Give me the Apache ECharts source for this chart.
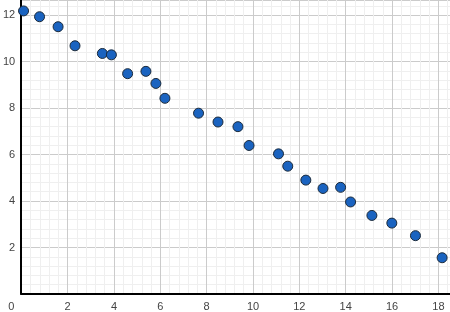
<!DOCTYPE html>
<html><head><meta charset="utf-8">
<script src="https://cdn.jsdelivr.net/npm/echarts@6/dist/echarts.min.js"></script>
<style>html,body{margin:0;padding:0;background:#fff}#c{width:450px;height:312px}</style>
</head><body><div id="c"></div>
<script>
var xValues = [0.1, 0.79, 1.59, 2.32, 3.5, 3.89, 4.59, 5.38, 5.81, 6.2, 7.65, 8.49, 9.35, 9.83, 11.1, 11.5, 12.28, 13.02, 13.78, 14.21, 15.13, 15.99, 17.01, 18.16];
var yValues = [12.18, 11.93, 11.5, 10.68, 10.35, 10.29, 9.48, 9.58, 9.06, 8.42, 7.78, 7.4, 7.2, 6.39, 6.03, 5.5, 4.9, 4.54, 4.59, 3.96, 3.38, 3.05, 2.51, 1.56];
var data = xValues.map(function(x, i){ return [x, yValues[i]]; });
var chart = echarts.init(document.getElementById('c'));
var labelStyle = {color:'#444', fontSize:11, fontFamily:'Liberation Sans, Arial, sans-serif'};
chart.setOption({
  animation:false,
  grid:{left:20, top:0, right:0, bottom:18, containLabel:false},
  xAxis:{type:'value', min:0, max:18.5, interval:2,
    axisLine:{show:true, onZero:false, lineStyle:{color:'#000', width:2}},
    axisTick:{show:false},
    axisLabel:Object.assign({margin:7, showMaxLabel:false,
      formatter:function(v){ return v===0 ? '{o|0}' : String(v); },
      rich:{o:{padding:[0,20,0,0], color:'#444', fontSize:11, fontFamily:'Liberation Sans, Arial, sans-serif'}}}, labelStyle),
    splitLine:{show:true, lineStyle:{color:'#cbcbcb', width:1}},
    minorTick:{show:false, splitNumber:5},
    minorSplitLine:{show:true, lineStyle:{color:'#efefef', width:1}}
  },
  yAxis:{type:'value', min:0, max:12.65, interval:2,
    axisLine:{show:true, onZero:false, lineStyle:{color:'#000', width:2}},
    axisTick:{show:false},
    axisLabel:Object.assign({margin:6, showMinLabel:false, showMaxLabel:false}, labelStyle),
    splitLine:{show:true, lineStyle:{color:'#cbcbcb', width:1}},
    minorTick:{show:false, splitNumber:5},
    minorSplitLine:{show:true, lineStyle:{color:'#efefef', width:1}}
  },
  series:[{type:'scatter', data:data, symbolSize:10,
    itemStyle:{color:'#1a63c0', borderColor:'#1b2a3a', borderWidth:1, opacity:1}}]
});
</script></body></html>
